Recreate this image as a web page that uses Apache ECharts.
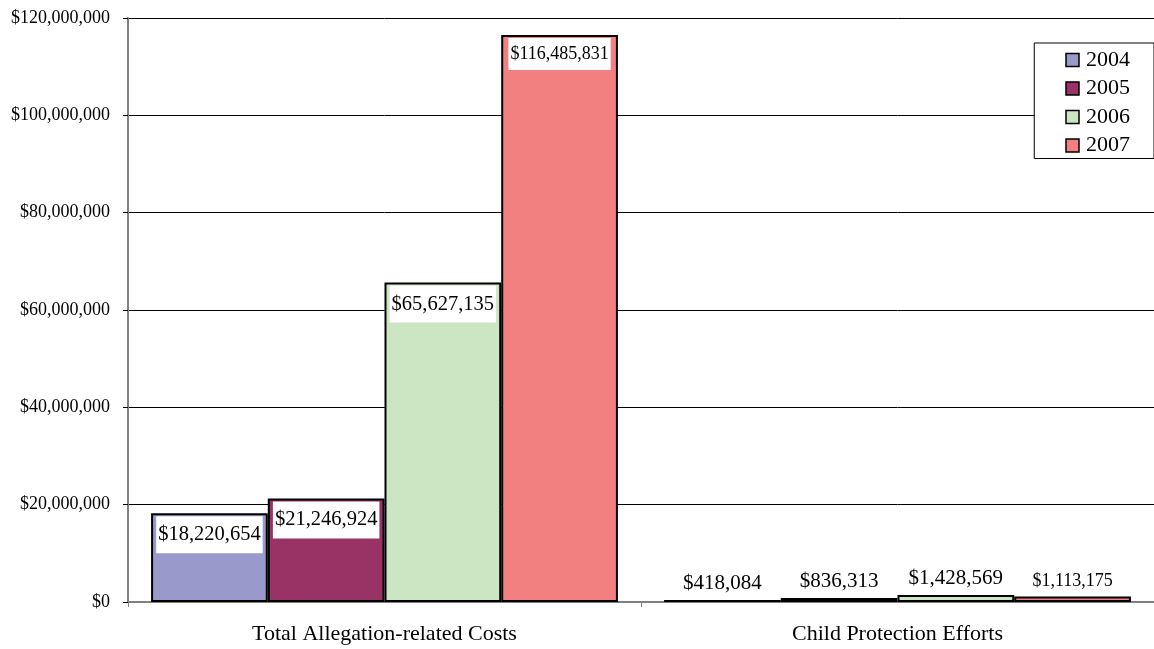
<!DOCTYPE html>
<html><head><meta charset="utf-8">
<script src="https://cdn.jsdelivr.net/npm/echarts@6/dist/echarts.min.js"></script>
<style>html,body{margin:0;padding:0;background:#fff}#c{width:1154px;height:649px}</style>
</head><body><div id="c"></div>
<script>
const categories = ['Total Allegation-related Costs', 'Child Protection Efforts'];
const years = ['2004', '2005', '2006', '2007'];
const v2004 = [18220654, 418084];
const v2005 = [21246924, 836313];
const v2006 = [65627135, 1428569];
const v2007 = [116485831, 1113175];
const yTicks = [0, 20000000, 40000000, 60000000, 80000000, 100000000, 120000000];

const colors = ['#9999CC', '#993366', '#CCE6C3', '#F28080'];
const labelSizes = [[20.5, 21], [20.5, 21], [20.5, 21], [18, 18]];
const serif = '"Liberation Serif", "DejaVu Serif", serif';
const fmt = v => '$' + Math.round(v).toLocaleString('en-US');

const allValues = [v2004, v2005, v2006, v2007];
const series = years.map((y, si) => ({
  name: y,
  type: 'bar',
  barGap: '0%',
  barCategoryGap: '9%',
  itemStyle: { color: colors[si], borderColor: '#000', borderWidth: 2 },
  data: allValues[si].map((v, ci) => ({
    value: v,
    label: ci === 0 ? {
      show: true, position: 'insideTop', distance: 3,
      backgroundColor: '#fff', padding: si === 3 ? [7, 2, 7, 2] : [8, 2, 8, 2],
      color: '#000', fontFamily: serif, fontSize: labelSizes[si][ci],
      formatter: p => fmt(p.value)
    } : {
      show: true, position: 'top', distance: 6,
      color: '#000', fontFamily: serif, fontSize: labelSizes[si][ci],
      formatter: p => fmt(p.value)
    }
  }))
}));

const chart = echarts.init(document.getElementById('c'));
chart.setOption({
  animation: false,
  backgroundColor: '#fff',
  grid: { left: 128, right: 0, top: 18, bottom: 47, containLabel: false },
  legend: {
    orient: 'vertical', right: 0, top: 43,
    data: years,
    itemWidth: 13, itemHeight: 13, itemGap: 6.5,
    padding: [6, 24, 2, 31],
    borderColor: '#000', borderWidth: 1, backgroundColor: '#fff',
    icon: 'rect',
    textStyle: { fontFamily: serif, fontSize: 22, color: '#000', padding: [0, 0, 0, 2] },
    itemStyle: { borderColor: '#000', borderWidth: 1.5 }
  },
  xAxis: {
    type: 'category', data: categories,
    axisLine: { lineStyle: { color: '#808080', width: 2 } },
    axisTick: { show: true, alignWithLabel: false, length: 5, lineStyle: { color: '#808080' } },
    axisLabel: { fontFamily: serif, fontSize: 22, color: '#000', margin: 21 }
  },
  yAxis: {
    type: 'value', min: yTicks[0], max: yTicks[yTicks.length - 1], interval: yTicks[1] - yTicks[0],
    axisLine: { show: true, lineStyle: { color: '#808080', width: 2 } },
    axisTick: { show: true, length: 5, lineStyle: { color: '#000' } },
    splitLine: { lineStyle: { color: '#000', width: 1 } },
    axisLabel: { fontFamily: serif, fontSize: 18, color: '#000', margin: 18, formatter: v => fmt(v) }
  },
  series
});
</script></body></html>
